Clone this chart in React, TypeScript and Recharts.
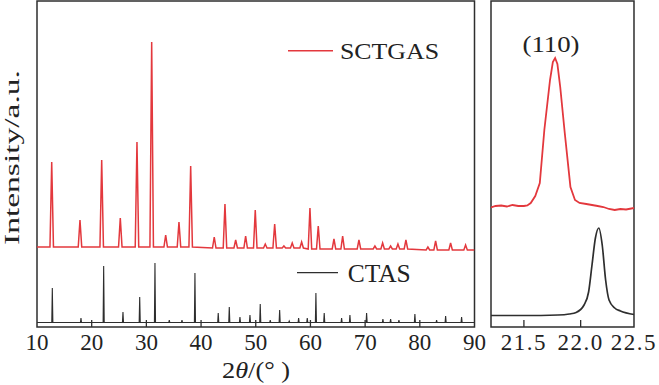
import React from "react";
import { LineChart, Line, XAxis, YAxis, ReferenceArea, Customized } from "recharts";

// intensities are arbitrary units (0 = bottom of frame)
const redPeakPos = [
  12.69, 17.86, 21.83, 25.23, 28.28, 30.97, 33.53, 35.96, 38.1, 42.41, 44.37, 46.33,
  48.15, 49.91, 51.74, 53.46, 55.15, 56.67, 58.39, 59.91, 61.43, 64.3, 65.89, 68.87,
  71.79, 73.2, 74.66, 76.0, 77.46, 81.48, 82.89, 85.63, 88.37,
];
const redPeakTop = [
  165, 107, 167, 109, 185, 285, 92, 105, 161, 90, 123, 87,
  91, 117, 83, 103, 81, 84, 85, 119, 101, 88, 91, 87,
  81, 84, 81, 83, 87, 80, 86, 84, 82,
];
const redFoot = [
  80, 80, 80, 80, 80, 80, 80, 80, 80, 79, 79, 79,
  79, 79, 79, 79, 79, 79, 79, 78, 78, 78, 78, 78,
  78, 78, 78, 78, 78, 77, 77, 77, 77,
];

const blackPeakPos = [
  12.8, 18.04, 22.19, 25.72, 28.78, 31.57, 34.19, 36.51, 38.88, 43.14, 45.16, 47.11,
  48.94, 50.82, 52.65, 54.37, 56.12, 57.84, 59.42, 61.0, 62.52, 65.7, 67.22, 70.27,
  73.25, 74.66, 76.18, 79.1, 83.07, 84.72, 87.64,
];
const blackPeakTop = [
  39, 9, 61, 15, 30, 64, 7, 7, 54, 14, 20, 10,
  12, 23, 7, 17, 6, 9, 9, 34, 14, 9, 12, 14,
  8, 8, 7, 13, 7, 11, 10,
];
const blackBase = 4.5;

// zoomed (110) region
const zoomRedX = [
  21.21, 21.25, 21.3, 21.35, 21.4, 21.45, 21.5, 21.53, 21.56, 21.6, 21.64, 21.68,
  21.73, 21.755, 21.775, 21.795, 21.82, 21.86, 21.91, 21.95, 21.99, 22.05, 22.1,
  22.15, 22.2, 22.25, 22.3, 22.35, 22.4, 22.47,
];
const zoomRedY = [
  119.5, 121, 121.5, 120.5, 122, 121, 121, 121.5, 124, 131, 144, 197,
  247, 265, 269, 263, 240, 194, 140, 127, 124, 123, 122,
  121, 120, 118, 117, 118, 117.5, 119,
];
const zoomBlackX = [21.21, 21.5, 21.8, 21.9, 21.96, 22.03, 22.07, 22.1, 22.13, 22.16, 22.19, 22.22, 22.25, 22.3, 22.35, 22.47];
const zoomBlackY = [11.5, 11.5, 12, 13, 14.5, 22, 35, 62, 89, 99, 82, 47, 27, 19, 16, 12.5];

const leftTicks = [10, 20, 30, 40, 50, 60, 70, 80, 90];
const rightTicks = [21.5, 22.0, 22.5];

const RED = "#e3383d";
const DARK = "#2e2e2e";
const FONT = "Liberation Serif";

const redLine: { x: number; y: number }[] = [{ x: 10, y: 80 }];
redPeakPos.forEach((p, i) => {
  redLine.push({ x: p - 0.32, y: redFoot[i] }, { x: p, y: redPeakTop[i] }, { x: p + 0.32, y: redFoot[i] });
});
redLine.push({ x: 90, y: 77 });

const blackLine: { x: number; y: number }[] = [{ x: 10, y: blackBase }];
blackPeakPos.forEach((p, i) => {
  blackLine.push({ x: p - 0.1, y: blackBase }, { x: p, y: blackPeakTop[i] }, { x: p + 0.1, y: blackBase });
});
blackLine.push({ x: 90, y: blackBase });

const zoomRed = zoomRedX.map((x, i) => ({ x, y: zoomRedY[i] }));
const zoomBlack = zoomBlackX.map((x, i) => ({ x, y: zoomBlackY[i] }));

// inward tick marks; the last label of the zoom panel sits at the picture's edge
const makeTick = (noLine: number[], digits: number, spacing: number, edge?: number) => (props: any) => {
  const { x, y, payload } = props;
  const atEdge = edge !== undefined && payload.value === edge;
  return (
    <g>
      {!noLine.includes(payload.value) && (
        <line x1={x} y1={y} x2={x} y2={y - 7} stroke={DARK} strokeWidth={1.3} />
      )}
      <text
        x={atEdge ? x + 19.5 : x}
        y={y + 23}
        textAnchor={atEdge ? "end" : "middle"}
        style={{ fontFamily: FONT }}
        fontSize={23}
        fill="#222"
        letterSpacing={spacing}
      >
        {payload.value.toFixed(digits)}
      </text>
    </g>
  );
};

const LeftDecor = () => (
  <g style={{ fontFamily: FONT }} fill="#222">
    <text x={19} y={157.5} transform="rotate(-90 19 157.5)" textAnchor="middle" fontSize={22} textLength={175} lengthAdjust="spacingAndGlyphs">
      Intensity/a.u.
    </text>
    <text x={256} y={377.5} textAnchor="middle" fontSize={23} textLength={68} lengthAdjust="spacingAndGlyphs">
      2<tspan fontStyle="italic">θ</tspan>/(° )
    </text>
    <line x1={288} y1={50.7} x2={333} y2={50.7} stroke={RED} strokeWidth={1.5} />
    <text x={340} y={59.3} fontSize={24} textLength={99} lengthAdjust="spacingAndGlyphs">SCTGAS</text>
    <line x1={297} y1={272.7} x2={338} y2={272.7} stroke={DARK} strokeWidth={1.3} />
    <text x={347.7} y={281.7} fontSize={25} textLength={63} lengthAdjust="spacingAndGlyphs">CTAS</text>
  </g>
);

const RightDecor = () => (
  <text x={71} y={52} textAnchor="middle" style={{ fontFamily: FONT }} fontSize={24} fill="#222" textLength={57} lengthAdjust="spacingAndGlyphs">
    (110)
  </text>
);

export default function App() {
  return (
    <div style={{ position: "absolute", left: 0, top: 0, width: 659, height: 385, background: "#fff", overflow: "hidden" }}>
      <div style={{ position: "absolute", left: 0, top: 0 }}>
        <LineChart width={490} height={385} margin={{ top: 1, right: 15.5, bottom: 0, left: 37 }}>
          <XAxis
            type="number"
            dataKey="x"
            domain={[10, 90]}
            ticks={leftTicks}
            height={58}
            axisLine={false}
            tickLine={false}
            tickSize={0}
            tickMargin={0}
            interval={0}
            tick={makeTick([10, 90], 0, 0)}
            allowDataOverflow
          />
          <YAxis type="number" domain={[0, 326]} hide />
          <ReferenceArea x1={10} x2={90} y1={0} y2={326} fill="none" stroke={DARK} strokeWidth={1.5} />
          <Line data={blackLine} dataKey="y" type="linear" stroke={DARK} strokeWidth={1.1} dot={false} isAnimationActive={false} />
          <Line data={redLine} dataKey="y" type="linear" stroke={RED} strokeWidth={1.5} dot={false} isAnimationActive={false} />
          <Customized component={LeftDecor} />
        </LineChart>
      </div>
      <div style={{ position: "absolute", left: 480, top: 0 }}>
        <LineChart width={179} height={385} margin={{ top: 1, right: 21.6, bottom: 0, left: 11 }}>
          <XAxis
            type="number"
            dataKey="x"
            domain={[21.21, 22.5]}
            ticks={rightTicks}
            height={58}
            axisLine={false}
            tickLine={false}
            tickSize={0}
            tickMargin={0}
            interval={0}
            tick={makeTick([22.5], 1, 1.5, 22.5)}
            allowDataOverflow
          />
          <YAxis type="number" domain={[0, 326]} hide />
          <ReferenceArea x1={21.21} x2={22.47} y1={0} y2={326} fill="none" stroke={DARK} strokeWidth={1.5} />
          <Line data={zoomBlack} dataKey="y" type="monotone" stroke={DARK} strokeWidth={1.7} dot={false} isAnimationActive={false} />
          <Line data={zoomRed} dataKey="y" type="linear" stroke={RED} strokeWidth={1.8} dot={false} isAnimationActive={false} />
          <Customized component={RightDecor} />
        </LineChart>
      </div>
    </div>
  );
}
